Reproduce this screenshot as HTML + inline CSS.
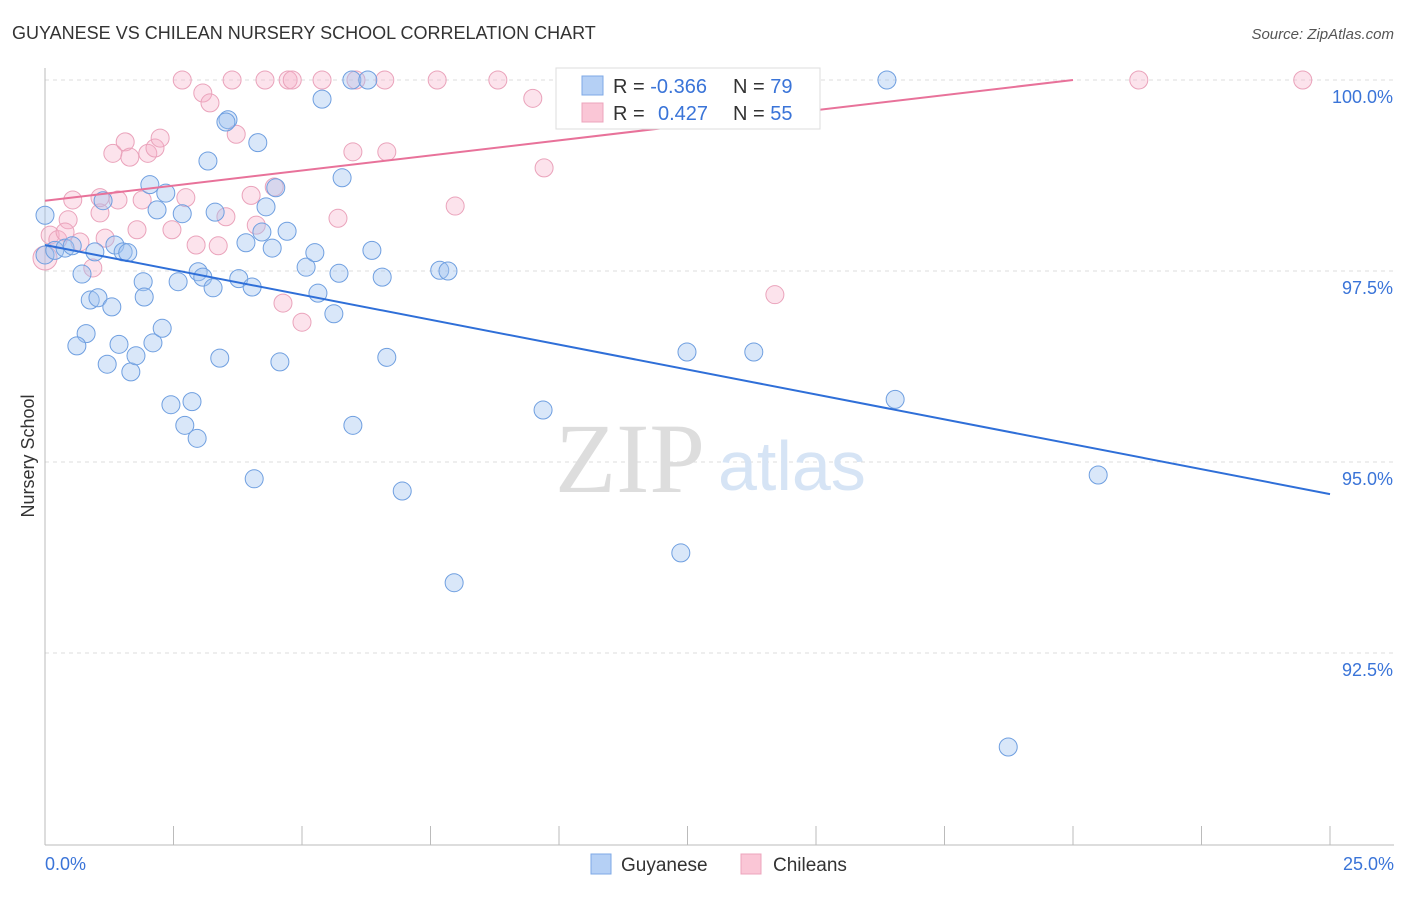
<!DOCTYPE html>
<html><head><meta charset="utf-8"><style>
body{margin:0;background:#fff;font-family:"Liberation Sans",sans-serif}
</style></head><body>
<svg id="c" width="1406" height="892" xmlns="http://www.w3.org/2000/svg">
<text x="12" y="39" font-size="18" fill="#333">GUYANESE VS CHILEAN NURSERY SCHOOL CORRELATION CHART</text>
<text x="1394" y="39" font-size="15" fill="#555" font-style="italic" text-anchor="end">Source: ZipAtlas.com</text>
<text x="34" y="456" font-size="18" fill="#333" transform="rotate(-90 34 456)" text-anchor="middle">Nursery School</text>
<g id="grid"></g>
<text x="555" y="492" font-size="100" fill="#ddd" font-family="Liberation Serif,serif">ZIP</text>
<text x="718" y="490" font-size="70" fill="#d6e4f5">atlas</text>
<g id="marks"></g>
<g>
<rect x="556" y="68" width="264" height="61" fill="#fff" stroke="#ddd"/>
<rect x="582" y="76" width="21" height="19" fill="#b5d0f5" stroke="#7ea8e6"/>
<rect x="582" y="103" width="21" height="19" fill="#fac6d6" stroke="#eca4bc"/>
<text x="613" y="93" font-size="20" fill="#333">R = <tspan fill="#3a74d8">-0.366</tspan></text>
<text x="733" y="93" font-size="20" fill="#333">N = <tspan fill="#3a74d8">79</tspan></text>
<text x="613" y="120" font-size="20" fill="#333">R = <tspan fill="#3a74d8" x="658">0.427</tspan></text>
<text x="733" y="120" font-size="20" fill="#333">N = <tspan fill="#3a74d8">55</tspan></text>
</g>
<g>
<rect x="591" y="854" width="20" height="20" fill="#b5d0f5" stroke="#7ea8e6"/>
<text x="621" y="871" font-size="19" fill="#333">Guyanese</text>
<rect x="741" y="854" width="20" height="20" fill="#fac6d6" stroke="#eca4bc"/>
<text x="773" y="871" font-size="19" fill="#333">Chileans</text>
</g>
</svg>
<script>
const blueX=[0,0,0.19,0.39,0.53,0.97,0.72,0.88,1.03,1.30,0.80,0.62,1.21,1.44,1.67,1.77,2.10,2.28,1.91,1.93,1.36,1.52,1.61,1.13,2.04,2.18,2.35,2.67,2.59,2.98,3.07,3.27,3.17,3.31,3.56,3.52,4.14,3.91,4.22,4.30,4.42,4.49,4.71,3.77,4.03,3.40,4.57,2.45,2.86,2.72,2.96,4.07,5.08,5.25,5.31,5.62,5.72,5.78,5.39,5.97,6.28,6.36,6.56,6.65,5.99,6.95,7.68,7.84,7.96,9.69,12.37,12.49,13.79,16.38,16.54,20.49,18.74];
const blueY=[98.23,97.71,97.77,97.80,97.83,97.75,97.46,97.12,97.15,97.03,96.68,96.52,96.28,96.54,96.18,96.39,96.56,96.75,97.36,97.16,97.84,97.75,97.74,98.42,98.63,98.30,98.52,98.25,97.36,97.49,97.42,97.28,98.94,98.27,99.48,99.45,99.18,97.87,98.01,98.34,97.80,98.59,98.02,97.40,97.29,96.36,96.31,95.75,95.79,95.48,95.31,94.78,97.55,97.74,97.21,96.94,97.47,98.72,99.75,100,100,97.77,97.42,96.37,95.48,94.62,97.51,97.50,93.42,95.68,93.81,96.44,96.44,100,95.82,94.83,91.27];
const pinkX=[0,0.10,0.25,0.45,0.54,0.68,0.93,1.07,1.17,1.32,1.42,1.56,1.65,1.79,1.89,2.00,2.14,2.24,2.47,2.67,2.74,2.94,3.07,3.21,3.37,3.52,3.72,3.64,4.01,4.11,4.28,4.46,4.63,4.73,4.81,5.00,5.39,5.70,5.99,6.05,6.61,6.65,7.63,7.98,8.81,9.49,9.71,12.35,13.13,14.20,21.28,24.47,0.39,1.07];
const pinkY=[97.67,97.97,97.91,98.17,98.43,97.88,97.54,98.26,97.93,99.04,98.43,99.19,98.99,98.04,98.43,99.04,99.11,99.24,98.04,100,98.46,97.84,99.83,99.70,97.83,98.21,99.29,100,98.49,98.10,100,98.60,97.08,100,100,96.83,100,98.19,99.06,100,100,99.06,100,98.35,100,99.76,98.85,100,100,97.19,100,100,98.01,98.46];
const blueLineX=[0,25],blueLineY=[97.84,94.58];
const pinkLineX=[0,20],pinkLineY=[98.42,100];
const yTicks=[100,97.5,95,92.5];
const yTickLabels=["100.0%","97.5%","95.0%","92.5%"];
const xTicks=[0,2.5,5,7.5,10,12.5,15,17.5,20,22.5,25];
const NS="http://www.w3.org/2000/svg";
const sx=v=>45+v*51.4, sy=v=>80+(100-v)*76.4;
function mk(t,a,p){const e=document.createElementNS(NS,t);for(const k in a)e.setAttribute(k,a[k]);p.appendChild(e);return e;}
const g=document.getElementById('grid'),m=document.getElementById('marks');
yTicks.forEach((v,i)=>{
 const l=mk('line',{x1:45,x2:1394,y1:sy(v),y2:sy(v),stroke:'#ddd','stroke-dasharray':'4,4'},g);
 
 
 const t=mk('text',{x:1393,y:sy(v)+23,'font-size':18,fill:'#3a74d8','text-anchor':'end'},g);
 t.textContent=yTickLabels[i];
 
 
});
const ax=mk('line',{x1:45,x2:45,y1:68,y2:845,stroke:'#bbb'},g);


const bx=mk('line',{x1:45,x2:1394,y1:845,y2:845,stroke:'#bbb'},g);


xTicks.forEach(v=>{
 const l=mk('line',{x1:sx(v),x2:sx(v),y1:826,y2:845,stroke:'#bbb'},g);
 
 
});
const x0=mk('text',{x:45,y:870,'font-size':18,fill:'#3a74d8'},g);x0.textContent="0.0%";


const x1=mk('text',{x:1394,y:870,'font-size':18,fill:'#3a74d8','text-anchor':'end'},g);x1.textContent="25.0%";


pinkX.forEach((v,i)=>{
 const c=mk('circle',{cx:sx(v),cy:sy(pinkY[i]),r:i==0?12:9,fill:'rgba(246,176,200,0.35)',stroke:'#eaa3bb','stroke-width':1},m);
 
 
});
blueX.forEach((v,i)=>{
 const c=mk('circle',{cx:sx(v),cy:sy(blueY[i]),r:9,fill:'rgba(160,196,240,0.4)',stroke:'#6f9fe0','stroke-width':1},m);
 
 
});
const bl=mk('line',{x1:sx(blueLineX[0]),y1:sy(blueLineY[0]),x2:sx(blueLineX[1]),y2:sy(blueLineY[1]),stroke:'#2f6fd8','stroke-width':2},m);


const pl=mk('line',{x1:sx(pinkLineX[0]),y1:sy(pinkLineY[0]),x2:sx(pinkLineX[1]),y2:sy(pinkLineY[1]),stroke:'#e8729a','stroke-width':2},m);


</script>
</body></html>
